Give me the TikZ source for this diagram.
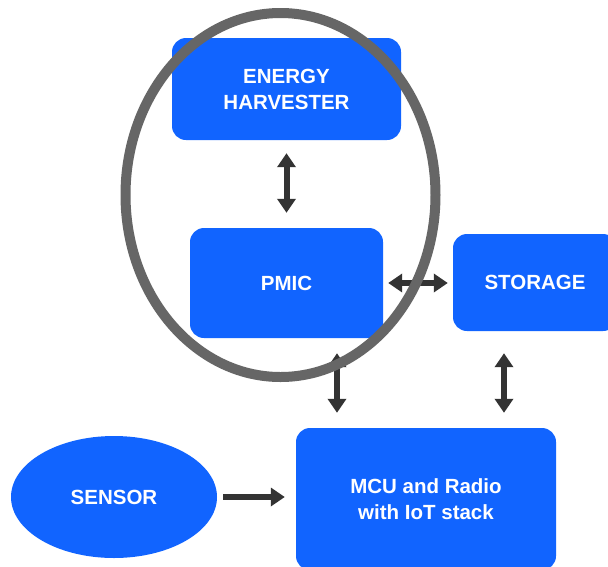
\documentclass[tikz,border=0pt]{standalone}
\usepackage{fontspec}
\setmainfont{Liberation Sans}
\usetikzlibrary{arrows.meta,shapes.geometric}
\definecolor{boxblue}{HTML}{1164FF}
\definecolor{ringgray}{HTML}{666666}
\definecolor{arrowdark}{HTML}{333333}
\begin{document}
\begin{tikzpicture}[x=1pt,y=-1pt,
  blk/.style={fill=boxblue, rounded corners=14pt, text=white,
    font=\bfseries\fontsize{20.5}{26}\selectfont, align=center, inner sep=0pt},
  blob/.style={fill=boxblue, ellipse, text=white,
    font=\bfseries\fontsize{20.5}{26}\selectfont, inner sep=0pt},
  ring/.style={draw=ringgray, line width=10pt, ellipse, inner sep=0pt},
  dlink/.style={draw=arrowdark, line width=6pt,
    {Triangle[length=14pt,width=18pt]}-{Triangle[length=14pt,width=18pt]}},
  slink/.style={draw=arrowdark, line width=6pt,
    -{Triangle[length=14pt,width=18pt]}}]
\clip (0,0) rectangle (608,566);
\fill[white] (0,0) rectangle (608,566);

\node[blk, minimum width=229pt, minimum height=102pt] (eh) at (286.5,89) {ENERGY\\HARVESTER};
\node[blk, minimum width=193pt, minimum height=110pt] (pmic) at (286.5,283) {PMIC};
\node[blk, minimum width=164pt, minimum height=97pt] (st) at (535,282.5) {STORAGE};
\node[blk, minimum width=260pt, minimum height=142pt] (mcu) at (426,499) {MCU and Radio\\with IoT stack};
\node[blob, minimum width=206pt, minimum height=122pt] (sensor) at (114,497) {SENSOR};

\draw[dlink] ([yshift=-13pt]eh.south) -- ([yshift=15pt]pmic.north);
\draw[dlink] ([xshift=5pt]pmic.east) -- ([xshift=-5pt]st.west |- pmic.east);
\draw[dlink] ([xshift=50.5pt,yshift=-15pt]pmic.south) -- ([xshift=-89pt,yshift=15pt]mcu.north);
\draw[dlink] ([xshift=-31pt,yshift=-22pt]st.south) -- ([xshift=78pt,yshift=15pt]mcu.north);
\draw[slink] ([xshift=6pt]sensor.east) -- ([xshift=-11pt]mcu.west |- sensor.east);

\node[ring, minimum width=310pt, minimum height=364pt] (loop) at (280.5,195) {};
\end{tikzpicture}
\end{document}
